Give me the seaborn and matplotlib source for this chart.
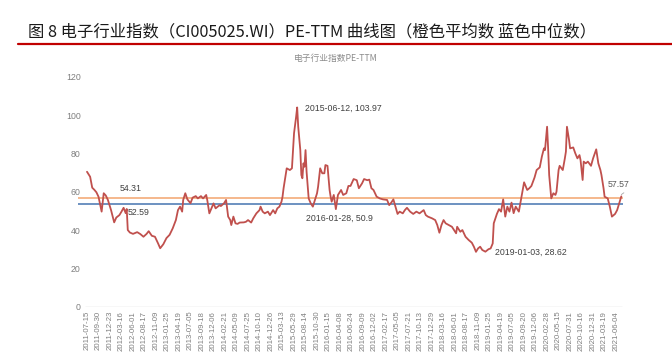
import pandas as pd
import seaborn as sns
import matplotlib.pyplot as plt

# weekly PE-TTM readings (week number since 2011-07-15, value)
week = [0, 3, 5, 7, 9, 11, 14, 16, 18, 20, 23, 26, 28, 31, 33, 35, 37, 38, 39, 41,
        44, 48, 51, 54, 57, 59, 62, 65, 68, 70, 73, 76, 79, 82, 85, 87, 89, 91, 92, 94,
        96, 99, 101, 104, 106, 109, 111, 114, 115, 117, 119, 121, 123, 125, 127, 128, 131, 133, 135, 137,
        138, 140, 142, 144, 146, 150, 152, 154, 157, 159, 162, 165, 166, 168, 170, 173, 175, 178, 180, 182,
        184, 186, 187, 188, 190, 191, 194, 196, 198, 200, 201, 202, 204, 205, 206, 207, 208, 209, 210, 212,
        214, 216, 218, 220, 221, 223, 225, 227, 228, 230, 232, 233, 234, 236, 238, 240, 243, 245, 248, 250,
        252, 255, 258, 260, 263, 265, 268, 270, 272, 274, 277, 280, 283, 287, 289, 291, 293, 295, 297, 299,
        302, 304, 306, 309, 312, 315, 318, 322, 324, 326, 330, 333, 335, 337, 339, 341, 343, 346, 349, 351,
        353, 354, 357, 359, 362, 365, 368, 370, 372, 374, 376, 378, 381, 384, 386, 388, 389, 392, 394, 396,
        398, 400, 402, 404, 406, 408, 410, 413, 415, 417, 418, 421, 423, 425, 428, 430, 433, 435, 437, 438,
        440, 441, 442, 444, 446, 448, 449, 451, 452, 455, 457, 458, 459, 461, 462, 465, 467, 469, 471, 472,
        474, 475, 477, 479, 482, 484, 487, 489, 491, 492, 494, 495, 498, 500, 502, 505, 507, 509, 511]
pe = [70.4, 67.8, 62.1, 61.0, 59.7, 57.4, 49.6, 59.2, 58.0, 55.7, 50.4, 44.0, 46.5, 47.8, 49.6, 51.6, 48.8, 51.0, 40.0, 38.7,
      38.0, 38.9, 37.9, 36.5, 38.0, 39.4, 37.0, 36.5, 33.0, 30.5, 32.6, 35.8, 37.5, 40.9, 45.2, 50.4, 52.2, 49.6, 55.7, 59.2,
      56.0, 54.0, 56.9, 57.7, 56.5, 57.7, 56.5, 58.3, 55.7, 48.7, 51.3, 53.9, 51.3, 52.2, 53.0, 52.5, 53.9, 55.7, 47.0, 45.2,
      42.6, 47.0, 43.5, 43.2, 43.9, 44.0, 44.3, 45.2, 43.9, 46.1, 48.7, 50.4, 52.2, 49.6, 48.7, 49.6, 47.8, 50.4, 48.7, 51.3,
      52.2, 54.8, 57.4, 61.8, 68.7, 72.2, 71.3, 72.2, 90.5, 99.1, 103.97, 93.9, 81.7, 68.7, 67.0, 74.8, 73.0, 81.7, 70.4, 56.5,
      53.9, 52.2, 55.7, 59.2, 62.6, 72.2, 69.6, 69.6, 73.9, 73.5, 60.9, 57.4, 54.8, 58.3, 50.9, 58.3, 60.9, 58.3, 59.2, 63.0,
      63.0, 66.6, 66.0, 61.8, 64.3, 66.6, 66.0, 66.3, 61.8, 60.9, 57.4, 56.5, 56.0, 55.7, 53.0, 54.3, 56.0, 52.2, 48.4, 49.6,
      48.7, 50.4, 51.6, 49.6, 48.4, 49.6, 48.7, 50.4, 47.8, 47.0, 46.1, 45.2, 42.6, 38.6, 42.6, 45.2, 43.5, 42.6, 41.7, 40.0,
      38.3, 41.7, 39.1, 40.0, 36.5, 34.8, 33.4, 31.3, 28.62, 30.4, 31.3, 29.6, 28.7, 30.0, 30.4, 33.0, 43.5, 48.4, 50.9, 49.6,
      56.0, 47.0, 52.2, 49.6, 54.3, 48.8, 52.2, 49.6, 55.7, 61.8, 64.9, 60.9, 61.8, 63.0, 67.4, 71.3, 72.7, 78.3, 82.6, 81.7,
      93.9, 82.6, 68.7, 56.5, 59.2, 58.3, 60.0, 71.3, 73.5, 71.3, 77.4, 80.9, 93.9, 87.0, 82.6, 83.1, 80.0, 77.4, 79.1, 76.5,
      66.1, 75.7, 74.8, 75.7, 73.5, 77.4, 82.1, 74.8, 71.3, 68.7, 61.8, 57.4, 56.5, 52.2, 47.0, 48.4, 50.4, 53.9, 57.57]

tick_labels = ["2011-07-15", "2011-09-30", "2011-12-23", "2012-03-16", "2012-06-01", "2012-08-17",
               "2012-11-09", "2013-01-25", "2013-04-19", "2013-07-05", "2013-09-18", "2013-12-06",
               "2014-02-21", "2014-05-09", "2014-07-25", "2014-10-10", "2014-12-26", "2015-03-13",
               "2015-05-29", "2015-08-14", "2015-10-30", "2016-01-15", "2016-04-08", "2016-06-24",
               "2016-09-09", "2016-12-02", "2017-02-17", "2017-05-05", "2017-07-21", "2017-10-13",
               "2017-12-29", "2018-03-16", "2018-06-01", "2018-08-17", "2018-11-09", "2019-01-25",
               "2019-04-19", "2019-07-05", "2019-09-20", "2019-12-06", "2020-02-28", "2020-05-15",
               "2020-07-31", "2020-10-16", "2020-12-31", "2021-03-19", "2021-06-04"]
tick_weeks = [11 * i for i in range(len(tick_labels))]

mean_level = 56.6     # orange line as drawn
median_level = 53.4   # blue line as drawn

df = pd.DataFrame({"week": week, "pe": pe})

sns.set_theme(style="white")
plt.rcParams["font.family"] = ["Liberation Sans", "Noto Sans CJK SC", "DejaVu Sans"]

fig = plt.figure(figsize=(6.72, 3.6), dpi=100)
ax = fig.add_axes([78 / 672, 53.3 / 360, 545 / 672, 230 / 360])

ax.axhline(mean_level, color="#f2a46e", lw=1.1, zorder=1)
ax.axhline(median_level, color="#4574b0", lw=1.1, zorder=1)
sns.lineplot(data=df, x="week", y="pe", ax=ax, color="#c0504d", lw=1.3, zorder=3)
ax.hlines(0, -1.9, 512, color="#d9d9d9", lw=1.0)

ax.set_xlim(-8.6, 512.6)
ax.set_ylim(0, 120)
ax.set_yticks([0, 20, 40, 60, 80, 100, 120])
ax.set_xticks(tick_weeks)
ax.set_xticklabels(tick_labels, rotation=90)
ax.tick_params(axis="x", labelsize=5.6, labelcolor="#7f7f7f", length=0, pad=3)
ax.tick_params(axis="y", labelsize=6.3, labelcolor="#7f7f7f", length=0, pad=-2)
ax.set_xlabel("")
ax.set_ylabel("")
for s in ax.spines.values():
    s.set_visible(False)

note_kw = dict(fontsize=6.3, color="#404040", va="center", ha="left")
ax.text(31.6, 61.9, "54.31", **note_kw)
ax.text(39.2, 49.0, "52.59", **note_kw)
ax.text(208.5, 103.7, "2015-06-12, 103.97", **note_kw)
ax.text(209.5, 46.3, "2016-01-28, 50.9", **note_kw)
ax.text(390, 28.2, "2019-01-03, 28.62", **note_kw)
ax.annotate("57.57", xy=(511, 58.5), xytext=(498, 63.5), fontsize=6.3, color="#595959",
            va="center", ha="left",
            arrowprops=dict(arrowstyle="-", color="#a6a6a6", lw=0.6, shrinkA=0, shrinkB=0,
                            relpos=(0.95, 0.0)))

fig.text(336 / 672, 1 - 58 / 360, "电子行业指数PE-TTM", fontsize=6.3, color="#8c8c8c",
         ha="center", va="center", family=["Noto Sans CJK SC", "DejaVu Sans"])
fig.text(28 / 672, 1 - 32 / 360, "图 8 电子行业指数（CI005025.WI）PE-TTM 曲线图（橙色平均数 蓝色中位数）",
         fontsize=11.75, color="#1a1a1a", ha="left", va="center",
         family=["Noto Sans CJK SC", "DejaVu Sans"])
fig.add_artist(plt.Line2D([18 / 672, 1.0], [1 - 44 / 360, 1 - 44 / 360],
                          color="#c00000", lw=1.6))

fig.savefig("out.png", dpi=100)
